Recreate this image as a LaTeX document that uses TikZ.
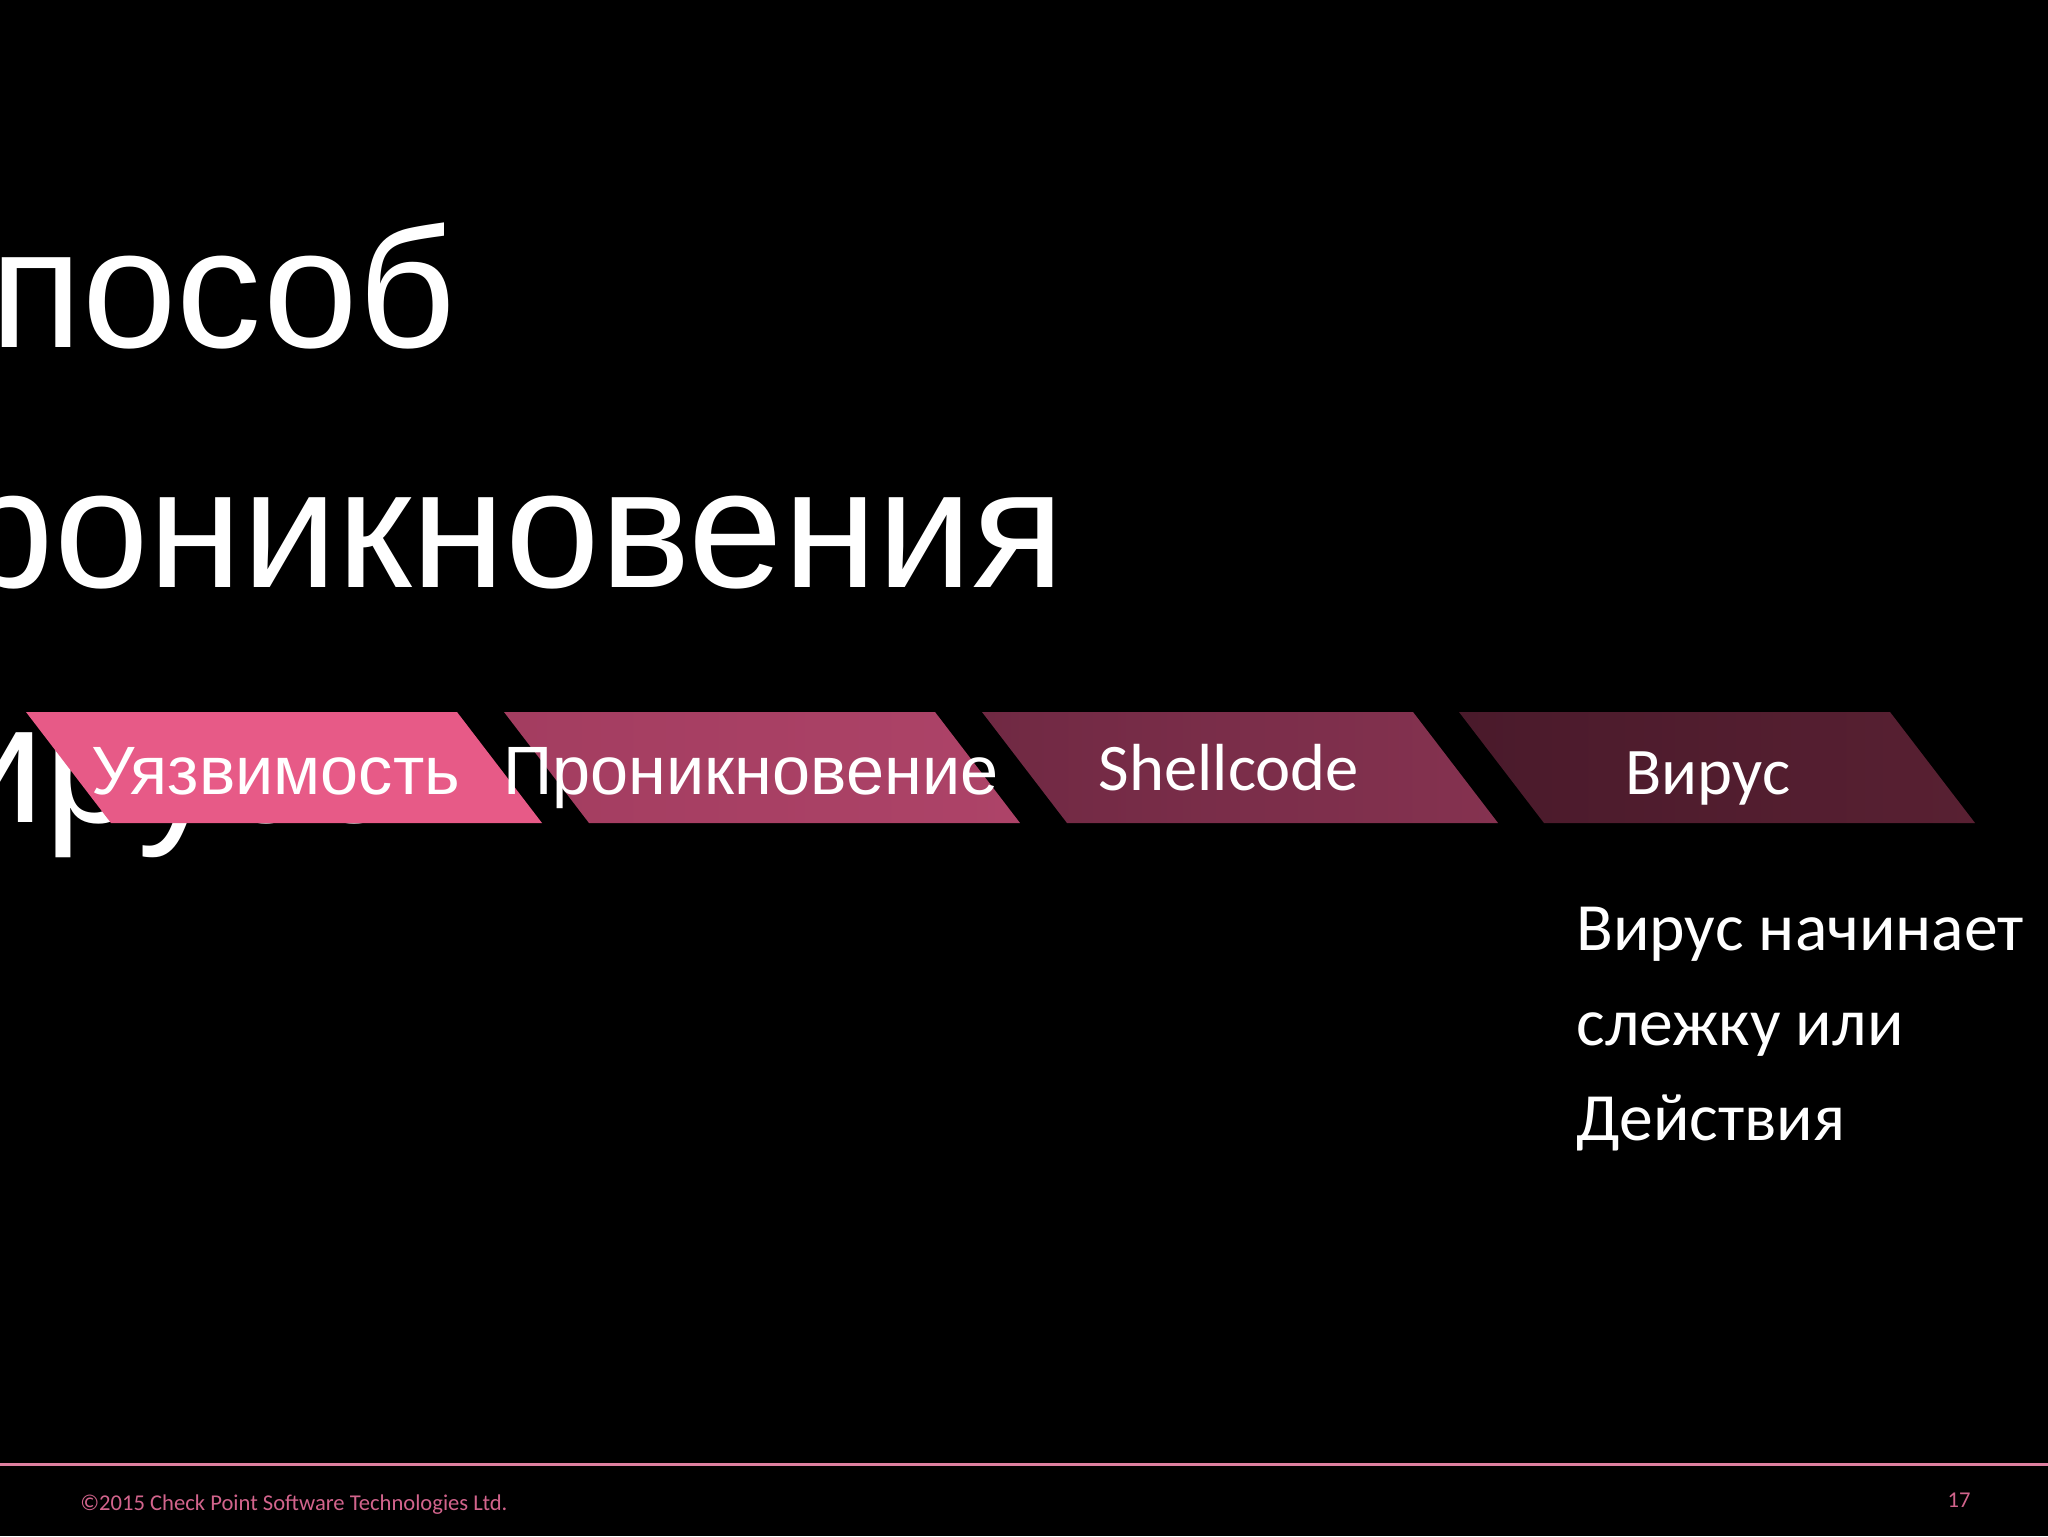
\documentclass[tikz,border=0pt]{standalone}
\usepackage{fontspec}
\setmainfont{Carlito}
\newfontfamily\arialf{Liberation Sans}
\newfontfamily\calib{Carlito}
\definecolor{pA}{RGB}{231,90,135}
\definecolor{pBl}{RGB}{163,61,96}
\definecolor{pBr}{RGB}{173,67,104}
\definecolor{pCl}{RGB}{112,41,67}
\definecolor{pCr}{RGB}{133,50,80}
\definecolor{pDl}{RGB}{74,26,43}
\definecolor{pDr}{RGB}{88,32,50}
\definecolor{footpink}{RGB}{222,128,160}
\definecolor{foottext}{RGB}{210,100,140}
\tikzset{
  titletext/.style={anchor=base west, inner sep=0pt, text=white, font=\arialf\fontsize{85}{85}\selectfont},
  boxlabel/.style={anchor=base, inner sep=0pt, text=white},
  bodytext/.style={anchor=base west, inner sep=0pt, text=white, font=\calib\fontsize{33.8}{33.8}\selectfont},
  foot/.style={anchor=base west, inner sep=0pt, text=foottext, font=\calib\fontsize{11.3}{11.3}\selectfont}
}
\begin{document}
\begin{tikzpicture}[x=0.5pt,y=-0.5pt]
\useasboundingbox (0,0) rectangle (2048,1536);
\clip (0,0) rectangle (2048,1536);
\fill[black] (0,0) rectangle (2048,1536);
% title (cut at the left edge)
\node[titletext] (t1) at (-133,347) {Способ};
\node[titletext] (t2) at (-133,587) {проникновения};
\node[titletext] (t3) at (-141,822) {вирусов};
% chevrons
\fill[pA] (26,712) -- (457,712) -- (542,823) -- (111,823) -- cycle;
\shade[left color=pBl, right color=pBr] (504,712) -- (935,712) -- (1020,823) -- (589,823) -- cycle;
\shade[left color=pCl, right color=pCr] (982,712) -- (1413,712) -- (1498,823) -- (1067,823) -- cycle;
\shade[left color=pDl, right color=pDr] (1459,712) -- (1890,712) -- (1975,823) -- (1544,823) -- cycle;
\node[boxlabel, font=\arialf\fontsize{34.2}{34.2}\selectfont] (l1) at (276,794) {Уязвимость};
\node[boxlabel, font=\arialf\fontsize{34.2}{34.2}\selectfont] (l2) at (751,794) {Проникновение};
\node[boxlabel, font=\calib\fontsize{33.3}{33.3}\selectfont] (l3) at (1229,790) {Shellcode};
\node[boxlabel, font=\calib\fontsize{33.3}{33.3}\selectfont] (l4) at (1708,794) {Вирус};
% description
\node[bodytext] (d1) at (1576,950) {Вирус начинает};
\node[bodytext] (d2) at (1576,1045) {слежку или};
\node[bodytext] (d3) at (1576,1140) {Действия};
% footer
\draw[footpink, line width=1.5pt] (0,1464) -- (2048,1464);
\node[foot] (f1) at (80,1510) {©2015 Check Point Software Technologies Ltd.};
\node[foot, anchor=base east] (f2) at (1971,1507) {17};
\end{tikzpicture}
\end{document}
